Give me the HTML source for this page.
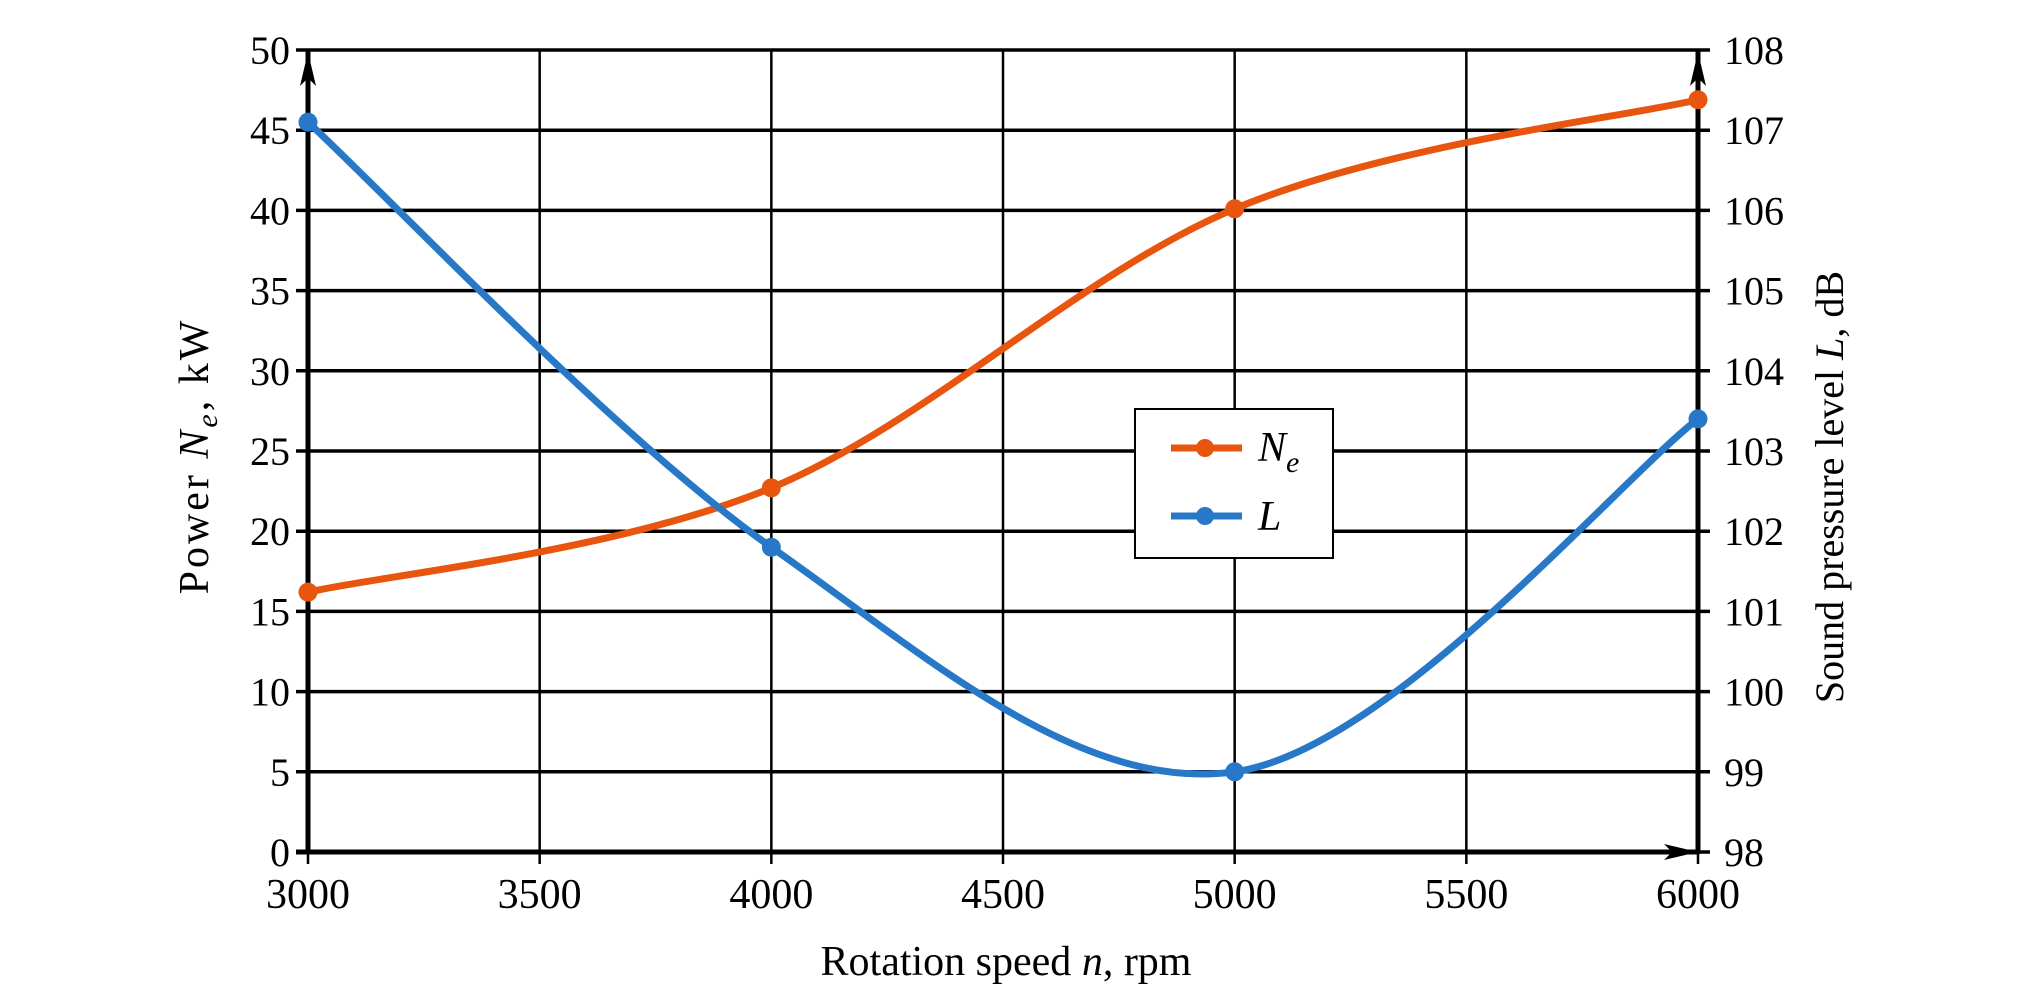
<!DOCTYPE html>
<html><head><meta charset="utf-8"><style>
html,body{margin:0;padding:0;background:#fff;}
svg{display:block;}
text{font-family:"Liberation Serif",serif;fill:#000;}
</style></head><body>
<svg id="chart" width="2020" height="999" viewBox="0 0 2020 999" xmlns="http://www.w3.org/2000/svg">
<g id="grid"></g>
<g id="axes"></g>
<g id="series"></g>
<text x="1006" y="975" font-size="42" text-anchor="middle">Rotation speed <tspan font-style="italic">n</tspan>, rpm</text>
<text transform="translate(208,456) rotate(-90)" font-size="42" letter-spacing="3" text-anchor="middle">Power <tspan font-style="italic">N</tspan><tspan font-style="italic" font-size="30" dy="9">e</tspan><tspan dy="-9">, kW</tspan></text>
<text transform="translate(1843,487) rotate(-90)" font-size="40" text-anchor="middle">Sound pressure level <tspan font-style="italic">L</tspan>, dB</text>
<g>
<rect x="1135" y="409" width="198" height="149" fill="#fff" stroke="#000" stroke-width="2"/>
<line x1="1171" y1="448" x2="1242" y2="448" stroke="#e8550f" stroke-width="7"/>
<circle cx="1205" cy="448" r="9" fill="#e8550f"/>
<text x="1258" y="461" font-size="42" font-style="italic">N<tspan font-size="30" dy="11">e</tspan></text>
<line x1="1171" y1="516" x2="1242" y2="516" stroke="#2878c8" stroke-width="7"/>
<circle cx="1205" cy="516" r="9" fill="#2878c8"/>
<text x="1258" y="530" font-size="42" font-style="italic">L</text>
</g>
</svg>
<script>
const xCats = [3000, 4000, 5000, 6000];
const neValues = [16.2, 22.7, 40.1, 46.9];
const lValues = [107.1, 101.8, 99.0, 103.4];
const xTicks = [3000, 3500, 4000, 4500, 5000, 5500, 6000];
const leftTicks = [0, 5, 10, 15, 20, 25, 30, 35, 40, 45, 50];
const rightTicks = [98, 99, 100, 101, 102, 103, 104, 105, 106, 107, 108];

const X0 = 308, X1 = 1698, Y0 = 852, Y1 = 50;
const sx = v => X0 + (v - 3000) / 3000 * (X1 - X0);
const syL = v => Y0 - v / 50 * (Y0 - Y1);
const syR = v => Y0 - (v - 98) / 10 * (Y0 - Y1);
const NS = 'http://www.w3.org/2000/svg';
function mk(tag, attrs, parent) {
  const e = document.createElementNS(NS, tag);
  for (const k in attrs) e.setAttribute(k, attrs[k]);
  parent.appendChild(e);
  return e;
}
const grid = document.getElementById('grid');
const axes = document.getElementById('axes');
const series = document.getElementById('series');

xTicks.forEach(t => {
  const x = sx(t);
  const l = mk('line', {x1: x, y1: Y1, x2: x, y2: Y0 + 12, stroke: '#000', 'stroke-width': 2.5}, grid);
  
  
  const tx = mk('text', {x: x, y: 908, 'font-size': 42, 'text-anchor': 'middle'}, axes);
  tx.textContent = t;
  
  
});
leftTicks.forEach(t => {
  const y = syL(t);
  const l = mk('line', {x1: X0 - 12, y1: y, x2: X1 + 12, y2: y, stroke: '#000', 'stroke-width': 3.5}, grid);
  
  
  const tx = mk('text', {x: 290, y: y + 14, 'font-size': 40, 'text-anchor': 'end'}, axes);
  tx.textContent = t;
  
  
});
rightTicks.forEach(t => {
  const y = syR(t);
  const tx = mk('text', {x: 1724, y: y + 14, 'font-size': 40, 'text-anchor': 'start'}, axes);
  tx.textContent = t;
  
  
});
const al = mk('path', {d: `M${X0},${Y0+2} L${X0},${Y1}`, stroke: '#000', 'stroke-width': 5, fill: 'none'}, axes);


const ar = mk('path', {d: `M${X1},${Y0+2} L${X1},${Y1}`, stroke: '#000', 'stroke-width': 5, fill: 'none'}, axes);


const ab = mk('path', {d: `M${X0-12},${Y0} L${X1},${Y0}`, stroke: '#000', 'stroke-width': 5, fill: 'none'}, axes);


[[X0, Y1, 'up'], [X1, Y1, 'up'], [X1, Y0, 'right']].forEach(([x, y, d]) => {
  const p = d === 'up' ? `M${x},${y+2} L${x-8},${y+36} L${x},${y+28} L${x+8},${y+36} Z`
                       : `M${x},${y} L${x-34},${y-8} L${x-26},${y} L${x-34},${y+8} Z`;
  const a = mk('path', {d: p, fill: '#000'}, axes);
  
  
});

function curve(pts) {
  let d = `M${pts[0][0]},${pts[0][1]}`;
  for (let i = 0; i < pts.length - 1; i++) {
    const p0 = pts[Math.max(i - 1, 0)], p1 = pts[i], p2 = pts[i + 1], p3 = pts[Math.min(i + 2, pts.length - 1)];
    const c1 = [p1[0] + (p2[0] - p0[0]) / 6, p1[1] + (p2[1] - p0[1]) / 6];
    const c2 = [p2[0] - (p3[0] - p1[0]) / 6, p2[1] - (p3[1] - p1[1]) / 6];
    d += ` C${c1[0]},${c1[1]} ${c2[0]},${c2[1]} ${p2[0]},${p2[1]}`;
  }
  return d;
}
function drawSeries(vals, sy, color, name) {
  const pts = xCats.map((c, i) => [sx(c), sy(vals[i])]);
  const p = mk('path', {d: curve(pts), stroke: color, 'stroke-width': 7, fill: 'none', 'stroke-linejoin': 'round'}, series);
  
  
  pts.forEach(pt => {
    const c = mk('circle', {cx: pt[0], cy: pt[1], r: 9.5, fill: color}, series);
    
    
  });
}
drawSeries(neValues, syL, '#e8550f', 'ne');
drawSeries(lValues, syR, '#2878c8', 'l');
</script>
</body></html>
